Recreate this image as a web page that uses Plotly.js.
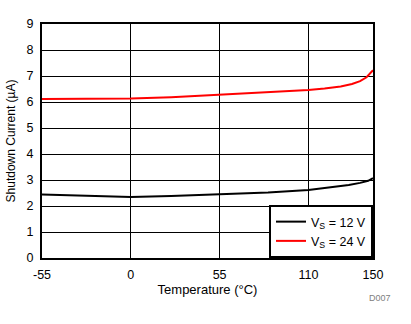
<!DOCTYPE html>
<html>
<head>
<meta charset="utf-8">
<script src="https://cdn.plot.ly/plotly-3.0.1.min.js"></script>
<style>html,body{margin:0;padding:0;background:#fff;}#chart{width:411px;height:324px;}</style>
</head>
<body>
<div id="chart"></div>
<script>
const temps12 = [-55, -40, -25, -10, 0, 25, 55, 85, 110, 125, 135, 142, 147, 150];
const vs12 = [2.44, 2.42, 2.38, 2.36, 2.35, 2.38, 2.44, 2.52, 2.62, 2.72, 2.81, 2.89, 2.97, 3.07];
const temps24 = [-55, -25, 0, 25, 55, 85, 110, 120, 130, 137, 142, 146, 150];
const vs24 = [6.12, 6.12, 6.13, 6.18, 6.27, 6.36, 6.46, 6.52, 6.60, 6.69, 6.80, 6.95, 7.22];
const xTicks = [-55, 0, 55, 110, 150];
const yTicks = [0, 1, 2, 3, 4, 5, 6, 7, 8, 9];
const names = ['V<sub>S</sub> = 12 V', 'V<sub>S</sub> = 24 V'];

const font = 'Liberation Sans, Arial, sans-serif';
const data = [
  {x: temps12, y: vs12, mode: 'lines', name: names[0], line: {color: '#000000', width: 2}},
  {x: temps24, y: vs24, mode: 'lines', name: names[1], line: {color: '#ff0000', width: 2}}
];
const layout = {
  width: 411, height: 324,
  margin: {l: 42, r: 38, t: 24, b: 66},
  paper_bgcolor: '#fff', plot_bgcolor: '#fff',
  font: {family: font, size: 12.5, color: '#000'},
  showlegend: true,
  legend: {x: 1, xanchor: 'right', y: 0, yanchor: 'bottom', bgcolor: '#fff',
           bordercolor: '#000', borderwidth: 2, font: {size: 12.5, family: font},
           tracegroupgap: 0, itemwidth: 30},
  xaxis: {range: [-55, 150], tickvals: xTicks, ticktext: xTicks.map(String),
          showgrid: true, gridcolor: '#000', gridwidth: 1, zeroline: false,
          showline: true, linecolor: '#000', linewidth: 2, mirror: true,
          ticks: '', ticklabelstandoff: 4, tickfont: {size: 12.5},
          title: {text: 'Temperature (°C)', font: {size: 13, family: font}, standoff: 4}},
  yaxis: {range: [0, 9], tickvals: yTicks, ticktext: yTicks.map(String),
          showgrid: true, gridcolor: '#000', gridwidth: 1, zeroline: false,
          showline: true, linecolor: '#000', linewidth: 2, mirror: true,
          ticks: '', ticklabelstandoff: 4, tickfont: {size: 12.5},
          title: {text: 'Shutdown Current (µA)', font: {size: 12, family: font}, standoff: 8}},
  annotations: [{text: 'D007', xref: 'paper', yref: 'paper', x: 1.06, y: -0.17,
                 xanchor: 'right', yanchor: 'middle', showarrow: false,
                 font: {size: 9, color: '#808080', family: font}}]
};
Plotly.newPlot('chart', data, layout, {displayModeBar: false, staticPlot: true});
</script>
</body>
</html>
